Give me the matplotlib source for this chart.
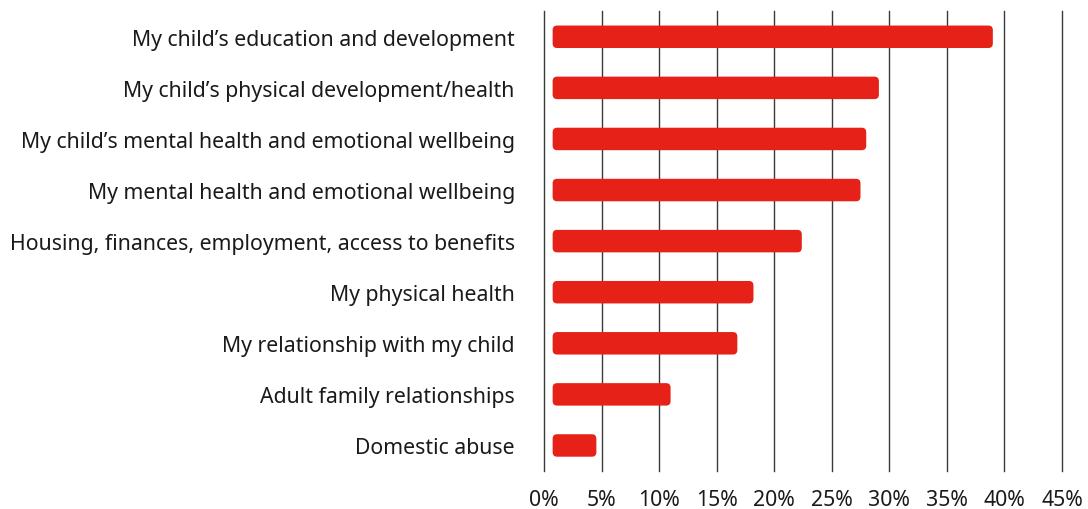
import matplotlib
matplotlib.use("Agg")
import matplotlib.pyplot as plt
from matplotlib.patches import FancyBboxPatch
from matplotlib.ticker import FuncFormatter

categories = [
    "My child\u2019s education and development",
    "My child\u2019s physical development/health",
    "My child\u2019s mental health and emotional wellbeing",
    "My mental health and emotional wellbeing",
    "Housing, finances, employment, access to benefits",
    "My physical health",
    "My relationship with my child",
    "Adult family relationships",
    "Domestic abuse",
]
values = [39.0, 29.1, 28.0, 27.5, 22.4, 18.2, 16.8, 11.0, 4.55]
xticks = [0, 5, 10, 15, 20, 25, 30, 35, 40, 45]

BAR_COLOR = "#e62117"
BAR_START = 0.75   # bars begin a little right of the 0% line
BAR_HEIGHT = 0.44
RADIUS_PX = 4.5

plt.rcParams["font.family"] = ["Noto Sans", "DejaVu Sans"]

fig = plt.figure(figsize=(10.88, 5.10), dpi=100)
ax = fig.add_axes([0.5, 0.0745, 0.476, 0.9015])

ax.set_xlim(0, 45)
ax.set_ylim(len(categories) - 0.5, -0.5)

# pixel sizes of one data unit, so rounded corners stay circular
bbox = ax.get_window_extent()
px_x = bbox.width / 45
px_y = bbox.height / len(categories)
r = RADIUS_PX / px_x

for i, v in enumerate(values):
    p = FancyBboxPatch((BAR_START, i - BAR_HEIGHT / 2), v - BAR_START, BAR_HEIGHT,
                       boxstyle=f"round,pad=0,rounding_size={r}",
                       mutation_aspect=px_x / px_y,
                       facecolor=BAR_COLOR, edgecolor="none", zorder=3)
    ax.add_patch(p)

for x in xticks:
    ax.axvline(x, color="#3a3a3a", lw=1.0, zorder=1, clip_on=False)

ax.set_xticks(xticks)
ax.xaxis.set_major_formatter(FuncFormatter(lambda v, _: f"{v:.0f}%"))
ax.set_yticks(range(len(categories)))
ax.set_yticklabels(categories)
ax.tick_params(axis="both", length=0, labelsize=15.3, colors="#1a1a1a")
ax.tick_params(axis="y", pad=21)
ax.tick_params(axis="x", pad=13)
for s in ax.spines.values():
    s.set_visible(False)

fig.savefig("out.png", dpi=100)
